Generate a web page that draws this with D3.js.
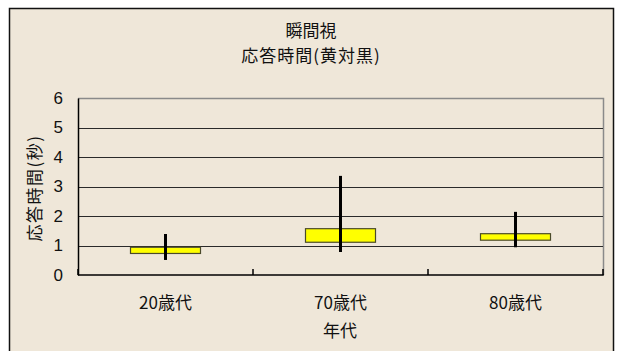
<!DOCTYPE html>
<html>
<head>
<meta charset="utf-8">
<script src="https://cdn.jsdelivr.net/npm/d3@7"></script>
<style>
  html, body { margin: 0; padding: 0; background: #ffffff; }
  svg { display: block; }
  text { font-family: "Noto Sans CJK JP", "Liberation Sans", sans-serif; fill: #111; }
</style>
</head>
<body>
<svg id="chart" width="619" height="351"></svg>
<script>
// Age groups and response-time stock-style values (seconds)
const categories = ["20歳代", "70歳代", "80歳代"];
const openVals  = [0.94, 1.57, 1.40];
const closeVals = [0.73, 1.11, 1.18];
const highVals  = [1.39, 3.36, 2.14];
const lowVals   = [0.51, 0.78, 0.94];
const yTicks = [0, 1, 2, 3, 4, 5, 6];

const titleLines = ["瞬間視", "応答時間(黄対黒)"];
const yTitle = "応答時間(秒)";
const xTitle = "年代";

const rows = categories.map((c, i) => ({
  cat: c, open: openVals[i], close: closeVals[i], high: highVals[i], low: lowVals[i]
}));

const svg = d3.select("#chart");

// chart frame
svg.append("rect")
  .attr("x", 9.5).attr("y", 8.5).attr("width", 604).attr("height", 350)
  .attr("fill", "#efe7d9").attr("stroke", "#111").attr("stroke-width", 1.5);

const plot = { left: 78, right: 603, top: 98, bottom: 275 };

const x = d3.scaleBand().domain(categories).range([plot.left, plot.right]).padding(0);
const y = d3.scaleLinear().domain([0, 6]).range([plot.bottom, plot.top]);

// plot area border (grey top/right)
svg.append("path")
  .attr("d", `M${plot.left},${plot.top + 0.5}H${plot.right + 0.5}V${plot.bottom}`)
  .attr("fill", "none").attr("stroke", "#8a8a8a").attr("stroke-width", 1.5);

// horizontal gridlines
svg.append("g").selectAll("line")
  .data(yTicks.filter(t => t > 0 && t < 6))
  .join("line")
  .attr("x1", plot.left).attr("x2", plot.right)
  .attr("y1", d => Math.round(y(d)) + 0.5).attr("y2", d => Math.round(y(d)) + 0.5)
  .attr("stroke", "#2a2a2a").attr("stroke-width", 1.2);

// y axis
const yAxis = d3.axisLeft(y).tickValues(yTicks).tickFormat(d3.format("d")).tickSize(0).tickPadding(15);
const gy = svg.append("g").attr("transform", `translate(${plot.left},0)`).call(yAxis);
gy.select(".domain").attr("stroke", "#000").attr("stroke-width", 1.5);
gy.selectAll("text")
  .style("font-family", "'Liberation Sans', Arial, sans-serif")
  .style("font-size", "17px").attr("fill", "#111");

// x axis with inward tick marks at category boundaries
const gx = svg.append("g").attr("transform", `translate(0,${plot.bottom})`);
gx.append("line")
  .attr("x1", plot.left).attr("x2", plot.right + 0.75)
  .attr("y1", 0).attr("y2", 0)
  .attr("stroke", "#000").attr("stroke-width", 1.5);
const boundaries = categories.map(c => x(c)).concat([x(categories[categories.length - 1]) + x.bandwidth()]);
gx.selectAll("line.tick")
  .data(boundaries)
  .join("line").attr("class", "tick")
  .attr("x1", d => d).attr("x2", d => d)
  .attr("y1", 0).attr("y2", -6)
  .attr("stroke", "#000").attr("stroke-width", 1.5);
gx.selectAll("text")
  .data(categories)
  .join("text")
  .attr("x", d => x(d) + x.bandwidth() / 2)
  .attr("y", 34)
  .attr("text-anchor", "middle")
  .style("font-size", "17px")
  .text(d => d);

// up/down boxes (between open and close)
const boxW = 70;
svg.append("g").selectAll("rect")
  .data(rows)
  .join("rect")
  .attr("x", d => x(d.cat) + x.bandwidth() / 2 - boxW / 2)
  .attr("y", d => y(Math.max(d.open, d.close)))
  .attr("width", boxW)
  .attr("height", d => y(Math.min(d.open, d.close)) - y(Math.max(d.open, d.close)))
  .attr("fill", "#ffff00").attr("stroke", "#4a4a2a").attr("stroke-width", 1.2);

// high-low lines
svg.append("g").selectAll("line")
  .data(rows)
  .join("line")
  .attr("x1", d => x(d.cat) + x.bandwidth() / 2)
  .attr("x2", d => x(d.cat) + x.bandwidth() / 2)
  .attr("y1", d => y(d.high)).attr("y2", d => y(d.low))
  .attr("stroke", "#000").attr("stroke-width", 3);

// titles
svg.append("g").selectAll("text")
  .data(titleLines)
  .join("text")
  .attr("x", 311).attr("y", (d, i) => 37 + i * 25)
  .attr("text-anchor", "middle")
  .style("font-size", "17px")
  .style("letter-spacing", (d, i) => i === 1 ? "1px" : "0px")
  .text(d => d);

svg.append("text")
  .attr("transform", "translate(41,188) rotate(-90)")
  .attr("text-anchor", "middle")
  .style("font-size", "17px")
  .style("letter-spacing", "1.5px")
  .text(yTitle);

svg.append("text")
  .attr("x", 340).attr("y", 337)
  .attr("text-anchor", "middle")
  .style("font-size", "17px")
  .text(xTitle);
</script>
</body>
</html>
